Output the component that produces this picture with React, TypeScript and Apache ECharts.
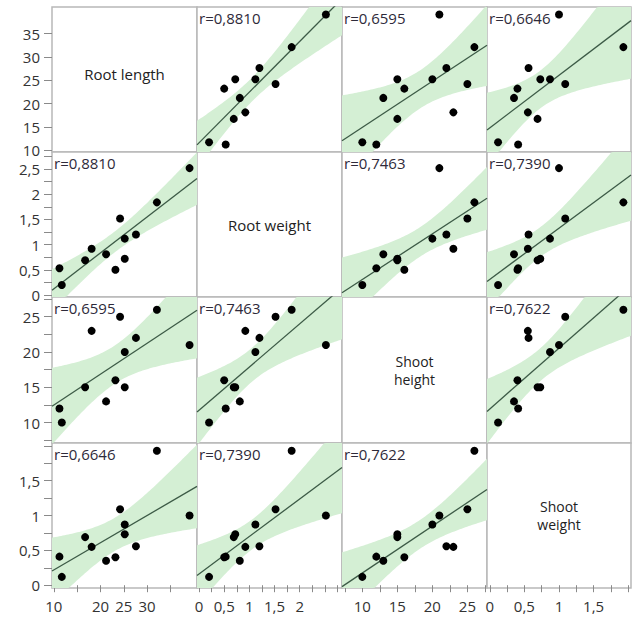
import React, { useEffect, useRef } from 'react';
import * as echarts from 'echarts';

// Measured variables (12 plants)
const variableNames = ['Root length', 'Root weight', 'Shoot height', 'Shoot weight'];
const diagonalLabels = [['Root length'], ['Root weight'], ['Shoot', 'height'], ['Shoot', 'weight']];

const rootLength = [11.2, 11.7, 16.7, 18.1, 21.2, 23.2, 24.2, 25.2, 25.2, 27.6, 32.1, 39.1];
const rootWeight = [0.53, 0.2, 0.69, 0.92, 0.81, 0.5, 1.52, 1.12, 0.72, 1.2, 1.84, 2.52];
const shootHeight = [12, 10, 15, 23, 13, 16, 25, 20, 15, 22, 26, 21];
const shootWeight = [0.41, 0.12, 0.69, 0.55, 0.35, 0.4, 1.09, 0.87, 0.73, 0.56, 1.93, 1.0];

// Pairwise correlation labels (row variable vs column variable)
const correlationLabels = [
  ['', 'r=0,8810', 'r=0,6595', 'r=0,6646'],
  ['r=0,8810', '', 'r=0,7463', 'r=0,7390'],
  ['r=0,6595', 'r=0,7463', '', 'r=0,7622'],
  ['r=0,6646', 'r=0,7390', 'r=0,7622', ''],
];

// Axis ranges and ticks per variable
const axisMin = [9.6, -0.04, 7.1, -0.04];
const axisMax = [40.7, 2.84, 27.8, 2.04];
const tickValues = [
  [10, 15, 20, 25, 30, 35],
  [0, 0.25, 0.5, 0.75, 1, 1.25, 1.5, 1.75, 2, 2.25, 2.5, 2.75],
  [7.5, 10, 12.5, 15, 17.5, 20, 22.5, 25, 27.5],
  [0, 0.25, 0.5, 0.75, 1, 1.25, 1.5, 1.75, 2],
];
const leftLabelValues = [
  [10, 15, 20, 25, 30, 35],
  [0, 0.5, 1, 1.5, 2, 2.5],
  [10, 15, 20, 25],
  [0, 0.5, 1, 1.5],
];
const bottomLabelValues = [
  [10, 20, 25, 30],
  [0, 0.5, 1, 1.5, 2],
  [10, 15, 20, 25],
  [0, 0.5, 1, 1.5],
];

const columns = [rootLength, rootWeight, shootHeight, shootWeight];

// Panel edges in pixels
const colEdges = [52, 197, 342, 487, 631];
const rowEdges = [7, 152, 297, 443, 588];

const T_975_DF10 = 2.228;
const FONT = '"Open Sans", "Noto Sans", sans-serif';
const BAND_COLOR = '#d4efd4';
const FIT_COLOR = '#3c5a46';
const BORDER_COLOR = '#b8b8b8';

const fmt = (v: number) => String(v).replace('.', ',');
const clamp = (v: number, lo: number, hi: number) => Math.max(lo, Math.min(hi, v));

function linearFit(xs: number[], ys: number[]) {
  const n = xs.length;
  const mx = xs.reduce((s, v) => s + v, 0) / n;
  const my = ys.reduce((s, v) => s + v, 0) / n;
  let sxx = 0;
  let sxy = 0;
  for (let i = 0; i < n; i++) {
    sxx += (xs[i] - mx) ** 2;
    sxy += (xs[i] - mx) * (ys[i] - my);
  }
  const b = sxy / sxx;
  const a = my - b * mx;
  let sse = 0;
  for (let i = 0; i < n; i++) sse += (ys[i] - (a + b * xs[i])) ** 2;
  const s = Math.sqrt(sse / (n - 2));
  return { a, b, s, mx, sxx, n };
}

function buildOption() {
  const grid: any[] = [];
  const xAxis: any[] = [];
  const yAxis: any[] = [];
  const series: any[] = [];
  const graphic: any[] = [];

  for (let r = 0; r < 4; r++) {
    for (let c = 0; c < 4; c++) {
      const k = r * 4 + c;
      const left = colEdges[c];
      const top = rowEdges[r];
      const width = colEdges[c + 1] - left;
      const height = rowEdges[r + 1] - top;
      grid.push({
        left,
        top,
        width,
        height,
        show: true,
        borderColor: BORDER_COLOR,
        borderWidth: 1.5,
        backgroundColor: '#fff',
      });

      const isBottom = r === 3;
      const isLeft = c === 0;
      xAxis.push({
        type: 'value',
        gridIndex: k,
        min: axisMin[c],
        max: axisMax[c],
        axisLine: { show: false },
        splitLine: { show: false },
        axisTick: {
          show: isBottom,
          length: 7,
          customValues: tickValues[c],
          lineStyle: { color: '#8a8a8a', width: 1 },
        },
        axisLabel: {
          show: isBottom,
          customValues: bottomLabelValues[c],
          formatter: fmt,
          margin: 10,
          color: '#333',
          fontSize: 15,
          fontFamily: FONT,
        },
      });
      yAxis.push({
        type: 'value',
        gridIndex: k,
        min: axisMin[r],
        max: axisMax[r],
        axisLine: { show: false },
        splitLine: { show: false },
        axisTick: {
          show: isLeft,
          length: 8,
          customValues: tickValues[r],
          lineStyle: { color: '#8a8a8a', width: 1 },
        },
        axisLabel: {
          show: isLeft,
          customValues: leftLabelValues[r],
          formatter: fmt,
          margin: 12,
          color: '#333',
          fontSize: 15,
          fontFamily: FONT,
        },
      });

      if (r === c) {
        // Variable name, one text per line, centred in the diagonal panel
        const lines = diagonalLabels[r];
        const lineGap = 18;
        const cy = top + height / 2 - (r === 0 ? 6 : 0);
        lines.forEach((line, li) => {
          graphic.push({
            type: 'text',
            x: left + width / 2,
            y: cy + (li - (lines.length - 1) / 2) * lineGap,
            style: {
              text: line,
              fontSize: lines.length > 1 ? 14 : 15,
              fontFamily: FONT,
              fill: '#222',
              align: 'center',
              verticalAlign: 'middle',
            },
            z: 10,
          });
        });
        continue;
      }

      const xs = columns[c];
      const ys = columns[r];
      const f = linearFit(xs, ys);
      const xMin = axisMin[c];
      const xMax = axisMax[c];
      const yMin = axisMin[r];
      const yMax = axisMax[r];

      // 95% confidence band of the fitted mean, sampled across the panel
      const steps = 80;
      const bandUpper: number[][] = [];
      const bandLower: number[][] = [];
      for (let i = 0; i <= steps; i++) {
        const x = xMin + ((xMax - xMin) * i) / steps;
        const yHat = f.a + f.b * x;
        const half = T_975_DF10 * f.s * Math.sqrt(1 / f.n + (x - f.mx) ** 2 / f.sxx);
        bandUpper.push([x, clamp(yHat + half, yMin, yMax)]);
        bandLower.push([x, clamp(yHat - half, yMin, yMax)]);
      }
      const outline = bandUpper.concat(bandLower.slice().reverse());

      series.push({
        type: 'custom',
        xAxisIndex: k,
        yAxisIndex: k,
        data: [[xMin, yMin]],
        silent: true,
        z: 1,
        renderItem: (_params: any, api: any) => ({
          type: 'polygon',
          shape: { points: outline.map((p) => api.coord(p)) },
          style: { fill: BAND_COLOR, stroke: 'none' },
        }),
      });
      series.push({
        type: 'line',
        xAxisIndex: k,
        yAxisIndex: k,
        data: [
          [xMin, f.a + f.b * xMin],
          [xMax, f.a + f.b * xMax],
        ],
        symbol: 'none',
        lineStyle: { color: FIT_COLOR, width: 1.3 },
        silent: true,
        z: 2,
      });
      series.push({
        type: 'scatter',
        xAxisIndex: k,
        yAxisIndex: k,
        data: xs.map((x, i) => [x, ys[i]]),
        symbolSize: 8,
        itemStyle: { color: '#000', opacity: 1 },
        z: 3,
      });

      graphic.push({
        type: 'text',
        x: left + 2,
        y: top + 3,
        style: {
          text: correlationLabels[r][c],
          fontSize: 15,
          fontFamily: FONT,
          fill: '#2e2a3a',
          align: 'left',
          verticalAlign: 'top',
        },
        z: 10,
      });
    }
  }

  return {
    animation: false,
    backgroundColor: '#fff',
    grid,
    xAxis,
    yAxis,
    series,
    graphic,
  };
}

export default function App() {
  const ref = useRef<HTMLDivElement>(null);
  useEffect(() => {
    if (!ref.current) return;
    const chart = echarts.init(ref.current, null, { renderer: 'svg' });
    chart.setOption(buildOption() as any);
    return () => chart.dispose();
  }, []);
  return (
    <div
      ref={ref}
      aria-label={variableNames.join(', ')}
      style={{ position: 'absolute', left: 0, top: 0, width: 633, height: 621 }}
    />
  );
}
